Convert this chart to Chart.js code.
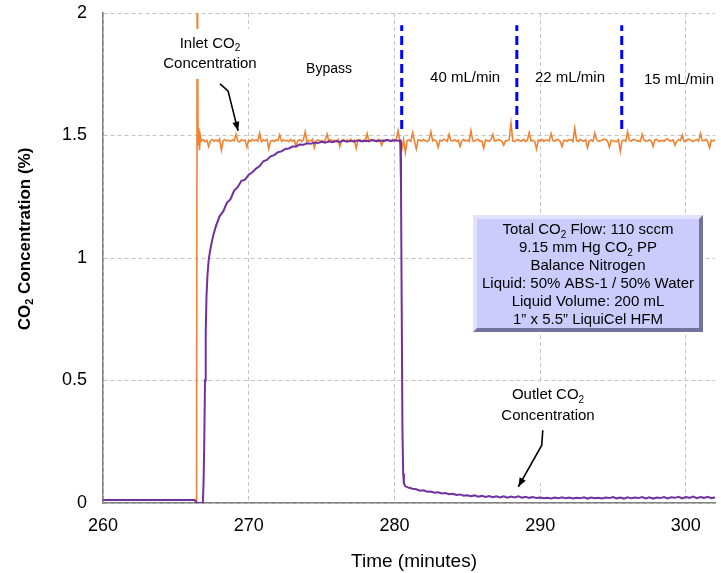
<!DOCTYPE html>
<html lang="en">
<head>
<meta charset="UTF-8">
<title>CO2 Absorption Run</title>
<script src="https://cdn.jsdelivr.net/npm/chart.js@4.4.1/dist/chart.umd.min.js"></script>
<style>
  body { margin: 0; background: #fff; }
  canvas { display: block; }
</style>
</head>
<body>
<canvas id="co2Chart" width="721" height="573"></canvas>
<script>
// axis ticks
const timeTicks = [260, 270, 280, 290, 300];
const concTicks = [0, 0.5, 1, 1.5, 2];

// logger intervals for the evenly sampled stretches (min)
const outletStep = 0.25;
const inletStep = 0.125;

// outlet CO2: baseline and start-up rise
const outletRiseTime = [260, 266.3, 266.45, 266.85, 266.9, 266.95, 267.0, 267.05, 267.1, 267.17, 267.25, 267.35, 267.5, 267.6];
const outletRiseConc = [0.012, 0.012, 0.0, 0.0, 0.08, 0.25, 0.5, 0.7, 0.84, 0.93, 0.99, 1.03, 1.075, 1.10];

// outlet CO2 during bypass, every 0.25 min from 267.75
const approachStart = 267.75;
const approachConc = [
  1.13, 1.17, 1.19, 1.225, 1.24, 1.275, 1.29, 1.315, 1.32, 1.34,
  1.35, 1.365, 1.375, 1.395, 1.40, 1.415, 1.42, 1.432, 1.435, 1.445,
  1.447, 1.455, 1.455, 1.463, 1.462, 1.468, 1.466, 1.471, 1.469, 1.474,
  1.471, 1.476, 1.473, 1.477, 1.474, 1.479, 1.475, 1.478, 1.476, 1.480,
  1.476, 1.479, 1.477, 1.481, 1.477, 1.480, 1.478, 1.482, 1.478, 1.481,
  1.479
];

// contactor switched in
const outletDropTime = [280.4, 280.45, 280.5, 280.55, 280.6, 280.65, 280.75];
const outletDropConc = [1.48, 1.3, 0.8, 0.3, 0.12, 0.08, 0.068];

// outlet CO2 with liquid flowing, every 0.25 min from 281
const tailStart = 281;
const tailConc = [
  0.062, 0.058, 0.056, 0.050, 0.052, 0.046, 0.047, 0.042, 0.044, 0.039,
  0.041, 0.036, 0.038, 0.033, 0.035, 0.030, 0.032, 0.028, 0.031, 0.026,
  0.029, 0.025, 0.028, 0.024, 0.027, 0.023, 0.027, 0.022, 0.026, 0.023,
  0.027, 0.022, 0.025, 0.021, 0.024, 0.020, 0.022, 0.019, 0.021, 0.018,
  0.022, 0.019, 0.023, 0.019, 0.022, 0.018, 0.021, 0.019, 0.023, 0.018,
  0.022, 0.019, 0.021, 0.018, 0.022, 0.020, 0.024, 0.019, 0.022, 0.018,
  0.023, 0.019, 0.022, 0.020, 0.024, 0.019, 0.023, 0.018, 0.022, 0.020,
  0.024, 0.019, 0.023, 0.021, 0.025, 0.019, 0.024, 0.021, 0.026, 0.020,
  0.024, 0.021, 0.025, 0.020, 0.023
];

// inlet CO2: valve opening overshoot
const inletRiseTime = [266.42, 266.47, 266.52, 266.57, 266.62, 266.68];
const inletRiseConc = [0, 2.4, 1.46, 1.53, 1.44, 1.50];

// inlet CO2, every 0.125 min from 266.75 (two minutes per row)
const inletStart = 266.75;
const inletConc = [
  1.478, 1.483, 1.475, 1.481, 1.455, 1.479, 1.484, 1.477, 1.482, 1.476, 1.486, 1.44, 1.479, 1.483, 1.477, 1.481,
  1.476, 1.482, 1.478, 1.505, 1.478, 1.474, 1.483, 1.479, 1.481, 1.452, 1.481, 1.476, 1.484, 1.478, 1.482, 1.477,
  1.51, 1.475, 1.482, 1.478, 1.484, 1.446, 1.477, 1.481, 1.475, 1.483, 1.479, 1.503, 1.476, 1.483, 1.478, 1.481,
  1.475, 1.484, 1.477, 1.482, 1.457, 1.479, 1.483, 1.476, 1.482, 1.515, 1.474, 1.481, 1.477, 1.484, 1.45, 1.478,
  1.483, 1.477, 1.48, 1.475, 1.482, 1.506, 1.476, 1.483, 1.478, 1.481, 1.476, 1.484, 1.455, 1.479, 1.483, 1.477,
  1.482, 1.478, 1.485, 1.476, 1.481, 1.447, 1.479, 1.484, 1.477, 1.482, 1.478, 1.508, 1.476, 1.483, 1.479, 1.481,
  1.476, 1.484, 1.478, 1.46, 1.482, 1.477, 1.483, 1.479, 1.476, 1.484, 1.478, 1.482, 1.52, 1.477, 1.44, 1.483,
  1.43, 1.479, 1.482, 1.476, 1.512, 1.478, 1.445, 1.483, 1.481, 1.477, 1.484, 1.478, 1.475, 1.482, 1.515, 1.478,
  1.483, 1.477, 1.452, 1.481, 1.477, 1.484, 1.482, 1.476, 1.505, 1.479, 1.478, 1.483, 1.476, 1.481, 1.455, 1.478,
  1.484, 1.477, 1.481, 1.476, 1.52, 1.478, 1.477, 1.483, 1.484, 1.476, 1.478, 1.448, 1.482, 1.479, 1.476, 1.483,
  1.504, 1.477, 1.479, 1.484, 1.481, 1.476, 1.46, 1.479, 1.478, 1.483, 1.55, 1.478, 1.475, 1.482, 1.483, 1.477,
  1.479, 1.484, 1.476, 1.481, 1.512, 1.477, 1.481, 1.476, 1.445, 1.482, 1.478, 1.484, 1.476, 1.481, 1.481, 1.477,
  1.508, 1.479, 1.477, 1.483, 1.483, 1.476, 1.455, 1.481, 1.479, 1.477, 1.484, 1.482, 1.476, 1.53, 1.48, 1.476,
  1.484, 1.479, 1.477, 1.482, 1.45, 1.478, 1.482, 1.476, 1.51, 1.483, 1.476, 1.479, 1.481, 1.484, 1.484, 1.477,
  1.452, 1.481, 1.479, 1.476, 1.475, 1.483, 1.435, 1.478, 1.482, 1.476, 1.515, 1.481, 1.477, 1.484, 1.483, 1.478,
  1.479, 1.476, 1.505, 1.482, 1.476, 1.479, 1.482, 1.477, 1.455, 1.483, 1.484, 1.476, 1.478, 1.481, 1.476, 1.484,
  1.486, 1.478, 1.479, 1.482, 1.46, 1.477, 1.483, 1.479, 1.502, 1.476, 1.477, 1.484, 1.484, 1.478, 1.476, 1.481,
  1.483, 1.477, 1.508, 1.479, 1.478, 1.484, 1.476, 1.45, 1.481, 1.477, 1.483
];

// liquid flow rate changes (min) and the marker span (%)
const flowChangeTime = [280.5, 288.4, 295.6];
const markerSpan = [1.527, 1.95];

const FONT = "'Liberation Sans', Arial, sans-serif";

function pairs(times, vals) {
  return vals.map((v, i) => ({ x: times[i], y: v }));
}
function sampled(start, step, vals) {
  return vals.map((v, i) => ({ x: +(start + i * step).toFixed(3), y: v }));
}

const outletPoints = [].concat(
  pairs(outletRiseTime, outletRiseConc),
  sampled(approachStart, outletStep, approachConc),
  pairs(outletDropTime, outletDropConc),
  sampled(tailStart, outletStep, tailConc)
);
const inletPoints = [].concat(
  pairs(inletRiseTime, inletRiseConc),
  sampled(inletStart, inletStep, inletConc)
);

// text with "_2" style subscripts, centred on cx
function drawRich(ctx, text, cx, cy, size, bold) {
  const parts = text.split(/(_\d)/).filter(Boolean);
  const w8 = bold ? 'bold ' : '';
  const main = w8 + size + 'px ' + FONT;
  const sub = w8 + Math.round(size * 0.65) + 'px ' + FONT;
  let w = 0;
  parts.forEach(p => {
    const isSub = p[0] === '_';
    ctx.font = isSub ? sub : main;
    w += ctx.measureText(isSub ? p.slice(1) : p).width;
  });
  let x = cx - w / 2;
  ctx.textAlign = 'left';
  ctx.textBaseline = 'middle';
  parts.forEach(p => {
    const isSub = p[0] === '_';
    const t = isSub ? p.slice(1) : p;
    ctx.font = isSub ? sub : main;
    ctx.fillText(t, x, isSub ? cy + size * 0.32 : cy);
    x += ctx.measureText(t).width;
  });
}

function arrow(ctx, pts) {
  ctx.save();
  ctx.strokeStyle = '#000';
  ctx.fillStyle = '#000';
  ctx.lineWidth = 1.6;
  ctx.beginPath();
  ctx.moveTo(pts[0][0], pts[0][1]);
  for (let i = 1; i < pts.length; i++) ctx.lineTo(pts[i][0], pts[i][1]);
  ctx.stroke();
  const [x1, y1] = pts[pts.length - 2];
  const [x2, y2] = pts[pts.length - 1];
  const a = Math.atan2(y2 - y1, x2 - x1);
  ctx.beginPath();
  ctx.moveTo(x2, y2);
  ctx.lineTo(x2 - 9 * Math.cos(a) + 3.5 * Math.sin(a), y2 - 9 * Math.sin(a) - 3.5 * Math.cos(a));
  ctx.lineTo(x2 - 9 * Math.cos(a) - 3.5 * Math.sin(a), y2 - 9 * Math.sin(a) + 3.5 * Math.cos(a));
  ctx.closePath();
  ctx.fill();
  ctx.restore();
}

const notes = {
  id: 'notes',
  afterDatasetsDraw(chart) {
    const ctx = chart.ctx;
    const sx = chart.scales.x, sy = chart.scales.y;
    const px = v => sx.getPixelForValue(v);
    const py = v => sy.getPixelForValue(v);
    ctx.save();

    // label backgrounds
    ctx.fillStyle = '#fff';
    const inX = px(267.34), inY = py(1.833);
    ctx.fillRect(inX - 46, inY - 25, 92, 50);
    const outX = px(290.54), outY = py(0.285);
    ctx.fillRect(outX - 64, outY - 50, 128, 100);

    ctx.fillStyle = '#000';
    drawRich(ctx, 'Inlet CO_2', inX, py(1.874), 15);
    drawRich(ctx, 'Concentration', inX, py(1.792), 15);
    arrow(ctx, [[px(268.03), py(1.711)], [px(268.58), py(1.682)], [px(269.27), py(1.519)]]);

    drawRich(ctx, 'Outlet CO_2', outX, py(0.44), 15);
    drawRich(ctx, 'Concentration', outX, py(0.356), 15);
    arrow(ctx, [[px(290.18), py(0.297)], [px(290.11), py(0.236)], [px(288.5), py(0.066)]]);

    drawRich(ctx, 'Bypass', px(275.51), py(1.772), 14);
    drawRich(ctx, '40 mL/min', px(284.85), py(1.735), 15);
    drawRich(ctx, '22 mL/min', px(292.05), py(1.735), 15);
    drawRich(ctx, '15 mL/min', px(299.53), py(1.727), 15);

    // run conditions box
    const bx = Math.round(px(285.39)), by = Math.round(py(1.177));
    const bw = Math.round(px(301.18)) - bx, bh = Math.round(py(0.70)) - by;
    const e = 4;
    ctx.fillStyle = '#72729c';
    ctx.fillRect(bx, by, bw, bh);
    ctx.fillStyle = '#e2e2fc';
    ctx.beginPath();
    ctx.moveTo(bx, by);
    ctx.lineTo(bx + bw, by);
    ctx.lineTo(bx + bw - e, by + e);
    ctx.lineTo(bx + e, by + e);
    ctx.lineTo(bx + e, by + bh - e);
    ctx.lineTo(bx, by + bh);
    ctx.closePath();
    ctx.fill();
    ctx.fillStyle = '#ccccfc';
    ctx.fillRect(bx + e, by + e, bw - 2 * e, bh - 2 * e);

    ctx.fillStyle = '#000';
    const lines = [
      'Total CO_2 Flow: 110 sccm',
      '9.15 mm Hg CO_2 PP',
      'Balance Nitrogen',
      'Liquid: 50% ABS-1 / 50% Water',
      'Liquid Volume: 200 mL',
      '1\u201D x 5.5\u201D LiquiCel HFM'
    ];
    lines.forEach((t, i) => drawRich(ctx, t, bx + bw / 2, by + 15 + i * 18, 15));
    ctx.restore();
  },
  afterDraw(chart) {
    const ctx = chart.ctx;
    const area = chart.chartArea;
    ctx.save();
    ctx.fillStyle = '#000';
    drawRich(ctx, 'Time (minutes)', (area.left + area.right) / 2 + 5, 562, 19);
    ctx.translate(25, 239);
    ctx.rotate(-Math.PI / 2);
    drawRich(ctx, 'CO_2 Concentration (%)', 0, 0, 17, true);
    ctx.restore();
  }
};

const markerSets = flowChangeTime.map(t => ({
  data: [{ x: t, y: markerSpan[0] }, { x: t, y: markerSpan[1] }],
  borderColor: '#0000ff',
  borderWidth: 3,
  borderDash: [9, 5],
  pointRadius: 0,
  order: 1
}));

new Chart(document.getElementById('co2Chart'), {
  type: 'line',
  data: {
    datasets: [
      {
        label: 'Outlet CO2',
        data: outletPoints,
        borderColor: '#7030a0',
        borderWidth: 2,
        pointRadius: 0,
        order: 0
      },
      {
        label: 'Inlet CO2',
        data: inletPoints,
        borderColor: '#f08232',
        borderWidth: 1.6,
        pointRadius: 0,
        order: 2
      }
    ].concat(markerSets)
  },
  options: {
    responsive: false,
    animation: false,
    layout: { padding: { top: 13, right: 6, left: 0, bottom: 0 } },
    plugins: { legend: { display: false }, tooltip: { enabled: false } },
    scales: {
      x: {
        type: 'linear',
        min: 260,
        max: 302,
        afterBuildTicks: s => { s.ticks = timeTicks.map(v => ({ value: v })); },
        afterFit: s => { s.height = 70; s.paddingLeft = 0; s.paddingRight = 0; },
        grid: { color: '#c4c4c4', lineWidth: 1, drawTicks: false },
        border: { display: true, color: '#808080', width: 1.5, dash: [4, 3] },
        ticks: { color: '#000', padding: 12, maxRotation: 0, callback: v => String(v), font: { family: FONT, size: 18 } }
      },
      y: {
        min: 0,
        max: 2,
        afterBuildTicks: s => { s.ticks = concTicks.map(v => ({ value: v })); },
        afterFit: s => { s.width = 103; s.paddingTop = 0; s.paddingBottom = 0; },
        grid: { color: '#c4c4c4', lineWidth: 1, drawTicks: false },
        border: { display: true, color: '#808080', width: 1.5, dash: [4, 3] },
        ticks: { color: '#000', padding: 16, callback: v => String(v), font: { family: FONT, size: 18 } }
      }
    }
  },
  plugins: [notes]
});
</script>
</body>
</html>
